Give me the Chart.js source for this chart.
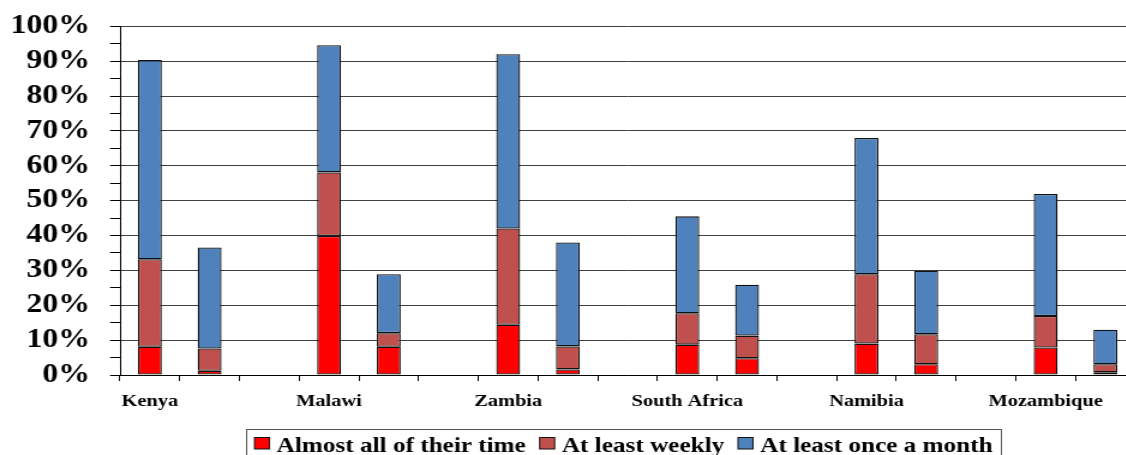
<!DOCTYPE html>
<html>
<head>
<meta charset="utf-8">
<script src="https://cdn.jsdelivr.net/npm/chart.js@4.4.1/dist/chart.umd.min.js"></script>
<style>
  html, body { margin: 0; padding: 0; background: #fff; overflow: hidden; width: 1126px; height: 455px; }
  #wrap { position: absolute; left: 0; top: 0; width: 1028px; height: 458px; transform: scaleX(1.2); transform-origin: 0 0; }
</style>
</head>
<body>
<div id="wrap"><canvas id="c"></canvas></div>
<script>
// ---- data (percent), two bars per country ----
const countries = ["Kenya", "Malawi", "Zambia", "South Africa", "Namibia", "Mozambique"];
const seriesNames = ["Almost all of their time", "At least weekly", "At least once a month"];
const almostAll   = [8.1, 1.2, 39.9, 8.1, 14.4, 1.6, 8.7, 4.8, 9.0, 3.1, 7.9, 0.8];
const weekly      = [25.1, 6.4, 18.2, 3.9, 27.6, 6.6, 9.0, 6.5, 19.9, 8.6, 9.0, 2.3];
const monthly     = [57.1, 29.0, 36.5, 16.9, 50.0, 29.8, 27.8, 14.6, 39.1, 18.2, 35.0, 9.9];
const yTicks      = [0, 10, 20, 30, 40, 50, 60, 70, 80, 90, 100];

// build slots: [bar1, bar2, gap] per country (no trailing gap)
const slotLabels = [];
function toSlots(arr) {
  const out = [];
  countries.forEach((c, i) => {
    out.push(arr[2 * i], arr[2 * i + 1]);
    if (i < countries.length - 1) out.push(null);
  });
  return out;
}
countries.forEach((c, i) => {
  slotLabels.push(c, "");
  if (i < countries.length - 1) slotLabels.push("");
});

const colors = ["#FF0000", "#C0504D", "#4F81BD"];
const serif = "'Liberation Serif', 'Times New Roman', serif";

const legendBox = {
  id: 'legendBox',
  afterDraw(chart) {
    const ctx = chart.ctx;
    ctx.save();
    ctx.font = "bold 21px " + serif;
    const sq = 12.5, gapText = 6, gapItem = 11.5, padL = 6.7, padR = 7.5;
    const ds = chart.data.datasets;
    let total = 0;
    ds.forEach((d, i) => {
      total += sq + gapText + ctx.measureText(d.label).width;
      if (i < ds.length - 1) total += gapItem;
    });
    const boxW = total + padL + padR;
    const left = 520 - boxW / 2;
    ctx.strokeStyle = "#555";
    ctx.lineWidth = 1;
    ctx.strokeRect(Math.round(left) + 0.5, 429.5, Math.round(boxW), 28);
    let x = left + padL;
    ds.forEach((d, i) => {
      ctx.fillStyle = d.backgroundColor;
      ctx.fillRect(x, 437, sq, 12);
      ctx.strokeStyle = "#111";
      ctx.strokeRect(x, 437.5, sq, 11.5);
      x += sq + gapText;
      ctx.fillStyle = "#000";
      ctx.textBaseline = "alphabetic";
      ctx.textAlign = "left";
      ctx.fillText(d.label, x, 451.5);
      x += ctx.measureText(d.label).width + gapItem;
    });
    ctx.restore();
  }
};

new Chart(document.getElementById('c'), {
  type: 'bar',
  data: {
    labels: slotLabels,
    datasets: [almostAll, weekly, monthly].map((arr, i) => ({
      label: seriesNames[i],
      data: toSlots(arr),
      backgroundColor: colors[i],
      borderColor: "#111",
      borderWidth: 1.3,
      borderSkipped: false,
      categoryPercentage: 1.0,
      barPercentage: 0.4
    }))
  },
  options: {
    responsive: true,
    maintainAspectRatio: false,
    devicePixelRatio: 1,
    animation: false,
    layout: { padding: { top: 26.3, left: 0, right: 82, bottom: 43 } },
    plugins: { legend: { display: false }, tooltip: { enabled: false } },
    scales: {
      x: {
        stacked: true,
        afterFit(s) { s.height = 40; s.paddingLeft = 0; s.paddingRight = 0; },
        border: { display: true, color: "#000", width: 1 },
        grid: { drawOnChartArea: false, drawTicks: true, tickLength: 6, color: "#000", offset: true },
        ticks: {
          autoSkip: false, maxRotation: 0, minRotation: 0, padding: 10,
          color: "#000", font: { family: serif, size: 17, weight: "bold" }
        }
      },
      y: {
        stacked: true,
        min: 0, max: 100,
        afterFit(s) { s.width = 100; s.paddingTop = 0; s.paddingBottom = 0; },
        afterBuildTicks(s) {
          const t = [];
          for (let v = 0; v <= 100; v += 5) t.push({ value: v });
          s.ticks = t;
        },
        border: { display: true, color: "#000", width: 1 },
        grid: {
          color: (c) => (c.tick && yTicks.includes(c.tick.value)) ? "#404040" : "rgba(0,0,0,0)",
          tickColor: "#000",
          tickLength: 8.3,
          lineWidth: 1
        },
        ticks: {
          autoSkip: false,
          padding: 16.7,
          color: "#000",
          font: { family: serif, size: 26.5, weight: "bold" },
          callback: (v) => yTicks.includes(v) ? v + "%" : ""
        }
      }
    }
  },
  plugins: [legendBox]
});
</script>
</body>
</html>
